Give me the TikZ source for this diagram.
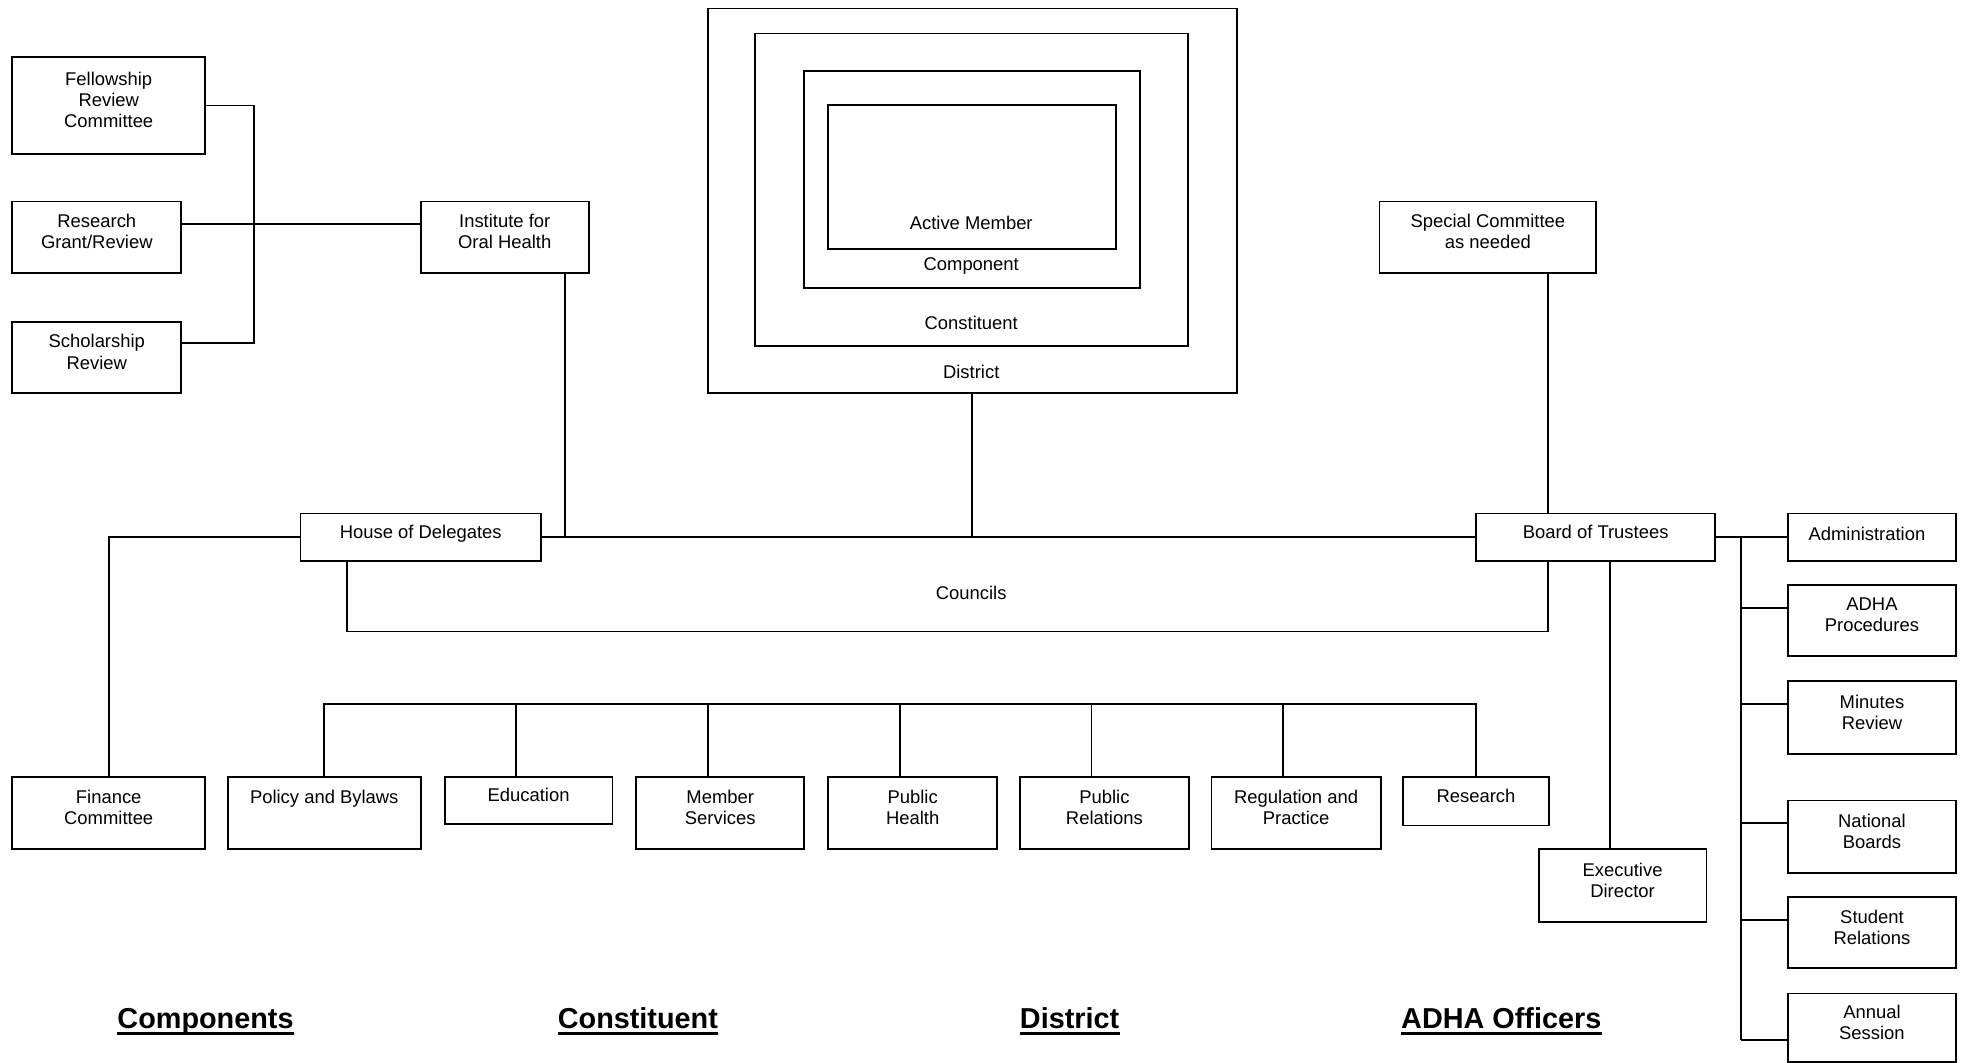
\documentclass[tikz,border=0pt]{standalone}
\usepackage{fontspec}
\setmainfont{Liberation Sans}
\newcommand{\orgbox}[6]{\node[box, anchor=north west, minimum width={(#4)-(#2)}, minimum height={(#5)-(#3)}, label={[lbl]center:{#6}}] (#1) at (#2,#3) {};}
\begin{document}
\begin{tikzpicture}[x=1pt,y=-1pt,
  box/.style={draw, line width=1.5pt, inner sep=0pt},
  lbl/.style={inner sep=0pt, align=center, text depth=0pt, yshift=4.5pt, font=\fontsize{14.7}{17}\selectfont},
  txt/.style={inner sep=0pt, anchor=base, font=\fontsize{14.7}{17}\selectfont},
  head/.style={inner sep=0pt, anchor=base, font=\fontsize{23}{27}\selectfont\bfseries},
  conn/.style={line width=1.4pt},
  uline/.style={line width=3pt}]
\useasboundingbox (0,0) rectangle (1568,848);
\fill[white] (0,0) rectangle (1568,848);

% left committees
\orgbox{fell}{9}{45}{163}{122}{Fellowship\\Review\\Committee}
\orgbox{res}{9}{160}{144}{217}{Research\\Grant/Review}
\orgbox{schol}{9}{256}{144}{313}{Scholarship\\Review}
\orgbox{inst}{335}{160}{469}{217}{Institute for\\Oral Health}

% nested membership boxes
\node[box, anchor=north west, minimum width=422, minimum height=307] (dist) at (564,6) {};
\node[box, anchor=north west, minimum width=345, minimum height=249] (const) at (602,26) {};
\node[box, anchor=north west, minimum width=268, minimum height=173] (comp) at (641,56) {};
\node[box, anchor=north west, minimum width=230, minimum height=115] (active) at (660,83) {};
\node[txt] (active-l) at (775,183.5) {Active Member};
\node[txt] (comp-l) at (775,216) {Component};
\node[txt] (const-l) at (775,263.3) {Constituent};
\node[txt] (dist-l) at (775,302.3) {District};

% main row
\orgbox{hod}{239}{409}{431}{447}{House of Delegates}
\orgbox{bot}{1177}{409}{1368}{447}{Board of Trustees}
\orgbox{spec}{1100}{160}{1273}{217}{Special Committee\\as needed}
\node[txt] (councils) at (775,478.3) {Councils};

% right column
\node[box, anchor=north west, minimum width=134, minimum height=38,
      label={[lbl, xshift=-4pt, yshift=-1.5pt]center:Administration}] (adm) at (1426,409) {};
\orgbox{adha}{1426}{466}{1560}{523}{ADHA\\Procedures}
\orgbox{minutes}{1426}{543}{1560}{601}{Minutes\\Review}
\orgbox{natl}{1426}{638}{1560}{696}{National\\Boards}
\orgbox{stud}{1426}{715}{1560}{772}{Student\\Relations}
\orgbox{ann}{1426}{792}{1560}{847}{Annual\\Session}
\orgbox{exec}{1227}{677}{1361}{735}{Executive\\Director}

% bottom row
\orgbox{fin}{9}{619}{163}{677}{Finance\\Committee}
\orgbox{pol}{181}{619}{335}{677}{Policy and Bylaws\\\mbox{}}
\orgbox{edu}{354}{619}{488}{657}{Education}
\orgbox{mem}{507}{619}{641}{677}{Member\\Services}
\orgbox{ph}{660}{619}{795}{677}{Public\\Health}
\orgbox{pr}{813}{619}{948}{677}{Public\\Relations}
\orgbox{reg}{966}{619}{1101}{677}{Regulation and\\Practice}
\orgbox{rsch}{1119}{619}{1235}{658}{Research}

% headings
\node[head] (h1) at (164,820.6) {Components};
\node[head] (h2) at (509,820.6) {Constituent};
\node[head] (h3) at (853.5,820.6) {District};
\node[head] (h4) at (1198,820.6) {ADHA Officers};
\foreach \h in {h1,h2,h3,h4}
  \draw[uline] ([yshift=-4pt]\h.base west) -- ([yshift=-4pt]\h.base east);

% coordinates for off-centre connections
\coordinate (bus1) at ([xshift=38pt]fell.east);
\coordinate (res-c) at ([yshift=-19pt]res.north east);
\coordinate (schol-c) at ([yshift=-18pt]schol.north east);
\coordinate (inst-d) at ([xshift=-19.5pt]inst.south east);
\coordinate (hod-c) at ([xshift=38pt]hod.south west);
\coordinate (bot-c) at ([xshift=58pt]bot.south west);
\coordinate (bot-t) at ([xshift=58pt]bot.north west);
\coordinate (bot-e) at ([xshift=108pt]bot.south west);
\coordinate (cy) at (0,504);
\coordinate (cbus) at (0,562);
\coordinate (bus2) at ([xshift=20pt]bot.east);
\coordinate (adha-c) at ([yshift=-19pt]adha.north west);
\coordinate (minutes-c) at ([yshift=-19pt]minutes.north west);
\coordinate (natl-c) at ([yshift=-19pt]natl.north west);
\coordinate (stud-c) at ([yshift=-19pt]stud.north west);
\coordinate (ann-c) at ([yshift=-38pt]ann.north west);

% left connectors
\draw[conn] (fell.east) -| (bus1 |- schol-c) -- (schol-c);
\draw[conn] (res-c) -- (res-c -| inst.west);
\draw[conn] (inst-d) -- (inst-d |- hod.east);

% main line and attachments
\draw[conn] (hod.east) -- (bot.west);
\draw[conn] (dist.south) -- (dist.south |- hod.east);
\draw[conn] (hod.west) -| (fin.north);
\draw[conn] (hod-c) |- (cy -| bot-c) -- (bot-c);
\draw[conn] (spec.south -| bot-t) -- (bot-t);
\draw[conn] (bot-e) -- (bot-e |- exec.north);

% right bus
\draw[conn] (bot.east) -- (adm.west);
\draw[conn] (bus2) -- (bus2 |- ann-c);
\foreach \n in {adha,minutes,natl,stud,ann}
  \draw[conn] (bus2 |- \n-c) -- (\n-c);

% councils bus
\draw[conn] (pol.north) |- (cbus -| rsch.north) -- (rsch.north);
\foreach \n in {edu,mem,ph,pr,reg}{
  \coordinate (\n-d) at ([xshift=58pt]\n.north west);
  \draw[conn] (\n-d) -- (\n-d |- cbus);
}
\end{tikzpicture}
\end{document}
